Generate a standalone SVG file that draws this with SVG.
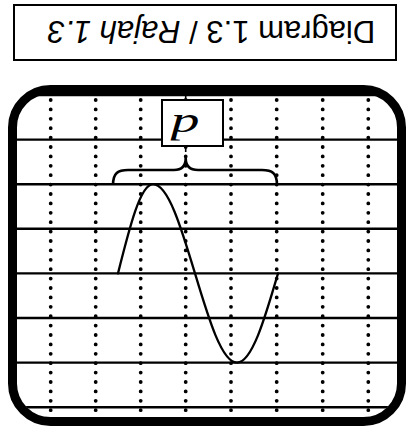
<svg xmlns="http://www.w3.org/2000/svg" width="409" height="428" viewBox="0 0 409 428">
<style>
.title{font-family:"Liberation Sans",Arial,sans-serif;font-size:31px;fill:#000}
.hline{stroke:#000;stroke-width:2.4;fill:none}
.vline{stroke:#000;stroke-width:3.8;stroke-linecap:round;stroke-dasharray:0 9.4;fill:none}
.curve{stroke:#000;stroke-width:2.3;fill:none;stroke-linecap:round}
</style>
<defs>
<clipPath id="screenClip"><rect x="17" y="93" width="380" height="324" rx="33"/></clipPath>
</defs>
<rect width="409" height="428" fill="#fff"/>
<g id="title">
<rect x="14" y="5" width="382" height="55" fill="#fff" stroke="#000" stroke-width="2"/>
<text class="title" x="211.5" y="42.7" text-anchor="middle" transform="rotate(180 211.5 31.7)">Diagram 1.3 / <tspan font-style="italic">Rajah 1.3</tspan></text>
</g>
<g id="grid" clip-path="url(#screenClip)">
<line class="hline" x1="10" y1="95" x2="400" y2="95"/>
<line class="hline" x1="10" y1="139.6" x2="400" y2="139.6"/>
<line class="hline" x1="10" y1="184.2" x2="400" y2="184.2"/>
<line class="hline" x1="10" y1="228.8" x2="400" y2="228.8"/>
<line class="hline" x1="10" y1="273.4" x2="400" y2="273.4"/>
<line class="hline" x1="10" y1="318" x2="400" y2="318"/>
<line class="hline" x1="10" y1="362.6" x2="400" y2="362.6"/>
<line class="hline" x1="10" y1="407.2" x2="400" y2="407.2"/>
<line class="vline" x1="50.7" y1="100" x2="50.7" y2="420"/>
<line class="vline" x1="95.7" y1="100" x2="95.7" y2="420"/>
<line class="vline" x1="140.7" y1="100" x2="140.7" y2="420"/>
<line class="vline" x1="185.7" y1="100" x2="185.7" y2="420"/>
<line class="vline" x1="231" y1="100" x2="231" y2="420"/>
<line class="vline" x1="276.7" y1="100" x2="276.7" y2="420"/>
<line class="vline" x1="322.7" y1="100" x2="322.7" y2="420"/>
<line class="vline" x1="368.3" y1="100" x2="368.3" y2="420"/>
<line stroke="#000" stroke-width="1.6" x1="185.7" y1="88" x2="185.7" y2="100"/>
</g>
<g id="screen-frame">
<rect x="12.5" y="89.5" width="389" height="332" rx="38" fill="none" stroke="#000" stroke-width="9"/>
</g>
<g id="connectors">
<path id="wave" class="curve" d="M118,273.4 C129.6,227.1 140.4,184.2 153,184.2 C168.1,184.2 181.1,227.1 195,273.4 C208.9,319.7 221.9,362.6 237,362.6 C251.8,362.6 264.5,319.7 278,273.4"/>
<path id="brace" d="M113,185 C113,173 118,170 128,170 L174,170 C182,170 185.7,166 185.7,158 C185.7,166 190,170 198,170 L262,170 C272,170 277,173 277,185" fill="none" stroke="#000" stroke-width="2.6"/>
<line stroke="#000" stroke-width="1.6" x1="185.7" y1="146" x2="185.7" y2="152"/>
</g>
<g id="label-p">
<rect x="162" y="100" width="61" height="46" fill="#fff" stroke="#000" stroke-width="2"/>
<text x="182" y="139.8" text-anchor="middle" font-family="Liberation Serif,serif" font-style="italic" font-size="36" transform="rotate(180 183.5 127.5) translate(182 0) scale(1.6 1) translate(-182 0)">d</text>
</g>
</svg>
